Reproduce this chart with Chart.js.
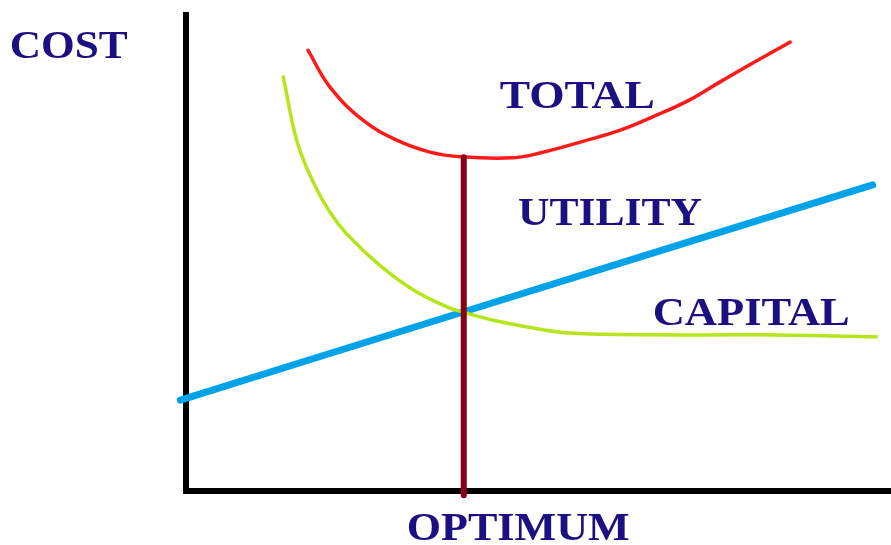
<!DOCTYPE html>
<html>
<head>
<meta charset="utf-8">
<title>Cost vs Optimum</title>
<script src="https://cdn.jsdelivr.net/npm/chart.js@4.4.1/dist/chart.umd.min.js"></script>
<style>
  html, body { margin: 0; padding: 0; background: #ffffff; }
  #costChart { display: block; }
</style>
</head>
<body>
<canvas id="costChart" width="891" height="545"></canvas>
<script>
// Curve data (x = size, y = cost, both 0..100)
const utilityX = [-0.8, 39.3, 97.4];
const utilityY = [19.1, 37.6, 64.3];

const capitalX = [13.8, 15.7, 18.0, 20.4, 22.8, 27.5, 32.2, 37.0, 39.3, 44.1, 50.2, 54.5, 65.8, 81.4, 97.9];
const capitalY = [87.0, 73.7, 65.0, 58.6, 54.0, 47.4, 42.3, 38.7, 37.6, 35.7, 34.0, 33.2, 32.8, 32.8, 32.4];

const totalX = [17.3, 20.4, 25.1, 29.9, 34.6, 39.1, 46.4, 50.2, 56.9, 61.6, 66.2, 71.1, 75.7, 80.4, 85.7];
const totalY = [92.6, 84.9, 77.9, 73.7, 71.2, 70.2, 70.0, 71.0, 73.7, 75.8, 78.6, 81.9, 85.9, 89.9, 94.3];

const optimumX = [39.4, 39.4];
const optimumY = [70.1, -0.9];

const labelTexts = ['COST', 'TOTAL', 'UTILITY', 'CAPITAL', 'OPTIMUM'];

(function () {
  "use strict";

  // Colors
  const text_navy    = '#1c0f82';
  const line_blue    = '#00a2e8';
  const line_lime    = '#b5e61d';
  const line_red     = '#ff1a1a';
  const line_maroon  = '#880015';

  function toPoints(xs, ys) {
    return xs.map(function (x, i) { return { x: x, y: ys[i] }; });
  }

  // where each label sits (data coords, baseline-left) and its drawn width in px
  const labelPlace = [
    { x: -25.0, y: 91.0, w: 118 },
    { x: 44.5,  y: 80.5, w: 155 },
    { x: 47.1,  y: 55.9, w: 184 },
    { x: 66.2,  y: 34.9, w: 197 },
    { x: 31.3,  y: -10.3, w: 223 }
  ];

  const textLabels = {
    id: 'textLabels',
    afterDatasetsDraw(chart) {
      const ctx = chart.ctx;
      const xs = chart.scales.x;
      const ys = chart.scales.y;
      ctx.save();
      ctx.font = 'bold 40px "Liberation Serif", "DejaVu Serif", serif';
      ctx.fillStyle = text_navy;
      ctx.textBaseline = 'alphabetic';
      labelTexts.forEach(function (t, i) {
        const p = labelPlace[i];
        const px = xs.getPixelForValue(p.x);
        const py = ys.getPixelForValue(p.y);
        const m = ctx.measureText(t).width;
        ctx.save();
        ctx.translate(px, py);
        ctx.scale(p.w / m, 1);
        ctx.fillText(t, 0, 0);
        ctx.restore();
      });
      ctx.restore();
    }
  };

  function lineSet(label, pts, color, width) {
    return {
      label: label,
      data: pts,
      borderColor: color,
      backgroundColor: color,
      borderWidth: width,
      borderCapStyle: 'round',
      borderJoinStyle: 'round',
      tension: 0.4,
      pointRadius: 0,
      fill: false,
      clip: false
    };
  }

  const axisOpts = {
    type: 'linear',
    min: 0,
    max: 100,
    ticks: { display: false },
    grid: { display: false, drawTicks: false, tickLength: 0 },
    border: { display: true, color: '#000000', width: 6 }
  };

  const ctx = document.getElementById('costChart').getContext('2d');
  new Chart(ctx, {
    type: 'line',
    data: {
      datasets: [
        lineSet('Optimum', toPoints(optimumX, optimumY), line_maroon, 6),
        lineSet('Total', toPoints(totalX, totalY), line_red, 3.5),
        lineSet('Capital', toPoints(capitalX, capitalY), line_lime, 3.5),
        lineSet('Utility', toPoints(utilityX, utilityY), line_blue, 7)
      ]
    },
    options: {
      responsive: false,
      animation: false,
      layout: {
        padding: { left: 186, top: 15, right: 0, bottom: 54 }
      },
      scales: {
        x: Object.assign({}, axisOpts),
        y: Object.assign({}, axisOpts)
      },
      plugins: {
        legend: { display: false },
        tooltip: { enabled: false }
      }
    },
    plugins: [textLabels]
  });
})();
</script>
</body>
</html>
